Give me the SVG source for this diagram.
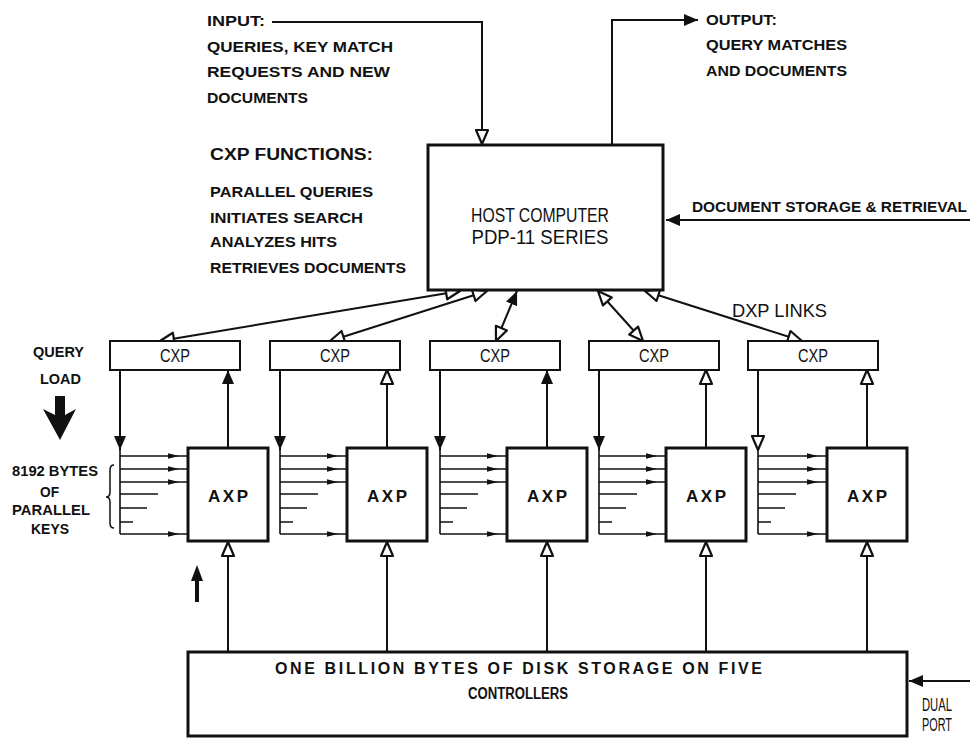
<svg xmlns="http://www.w3.org/2000/svg" width="970" height="738" viewBox="0 0 970 738">
<style>
text{font-family:"Liberation Sans",Arial,sans-serif;fill:#111}
.b{font-weight:bold;font-size:15px}
.r{font-size:18px}
.box{fill:#fff;stroke:#111;stroke-width:3}
.cxp{fill:#fff;stroke:#111;stroke-width:2}
.ln{fill:none;stroke:#111;stroke-width:2}
.kl{fill:none;stroke:#111;stroke-width:1.6}
.ka{fill:none;stroke:#111;stroke-width:1.6;marker-end:url(#sm)}
.ax{font-weight:bold;font-size:17px}
</style>
<defs>
<marker id="sol" viewBox="0 0 14 12" refX="14" refY="6" markerWidth="14" markerHeight="12" markerUnits="userSpaceOnUse" orient="auto-start-reverse"><path d="M0,0 L14,6 L0,12 z" fill="#111"/></marker>
<marker id="opn" viewBox="-2 -2 18 16" refX="14" refY="6" markerWidth="18" markerHeight="16" markerUnits="userSpaceOnUse" orient="auto-start-reverse"><path d="M0,0 L14,6 L0,12 z" fill="#fff" stroke="#111" stroke-width="2.2" stroke-linejoin="round"/></marker>
<marker id="sm" viewBox="0 0 20 6" refX="20" refY="3" markerWidth="20" markerHeight="6" markerUnits="userSpaceOnUse" orient="auto"><path d="M0,0.3 L11,3 L0,5.7 z" fill="#111"/></marker>
</defs>
<rect width="970" height="738" fill="#fff"/>

<g id="connectors">
<path class="ln" d="M272,22 H482 V144" marker-end="url(#opn)"/>
<path class="ln" d="M612,145 V20 H698" marker-end="url(#sol)"/>
<path class="ln" d="M970,220 H666" marker-end="url(#sol)"/>
<path class="ln" d="M970,681 H909" marker-end="url(#sol)"/>
<path class="ln" d="M460,291 L160,341" marker-start="url(#opn)" marker-end="url(#opn)"/>
<path class="ln" d="M487,291 L330,341" marker-start="url(#opn)" marker-end="url(#opn)"/>
<path class="ln" d="M517,291 L496,341" marker-start="url(#sol)" marker-end="url(#opn)"/>
<path class="ln" d="M598,291 L643,341" marker-start="url(#opn)" marker-end="url(#opn)"/>
<path class="ln" d="M645,291 L802,341" marker-start="url(#opn)" marker-end="url(#opn)"/>
<!-- unit 1 -->
<path class="ln" d="M120,370 V450" marker-end="url(#sol)"/>
<path class="ln" d="M228,448 V370" marker-end="url(#sol)"/>
<path class="ln" d="M228,652 V542" marker-end="url(#opn)"/>
<path class="kl" d="M120,450 V534 M120,494 H158 M120,508 H147 M120,522 H133"/>
<path class="ka" d="M120,456 H188"/><path class="ka" d="M120,469 H188"/><path class="ka" d="M120,482 H188"/><path class="ka" d="M120,534 H188"/>
<!-- unit 2 -->
<path class="ln" d="M280,370 V450" marker-end="url(#sol)"/>
<path class="ln" d="M387,448 V370" marker-end="url(#opn)"/>
<path class="ln" d="M387,652 V542" marker-end="url(#opn)"/>
<path class="kl" d="M280,450 V534 M280,494 H318 M280,508 H307 M280,522 H293"/>
<path class="ka" d="M280,456 H347"/><path class="ka" d="M280,469 H347"/><path class="ka" d="M280,482 H347"/><path class="ka" d="M280,534 H347"/>
<!-- unit 3 -->
<path class="ln" d="M440,370 V450" marker-end="url(#sol)"/>
<path class="ln" d="M547,448 V370" marker-end="url(#sol)"/>
<path class="ln" d="M547,652 V542" marker-end="url(#opn)"/>
<path class="kl" d="M440,450 V534 M440,494 H478 M440,508 H467 M440,522 H453"/>
<path class="ka" d="M440,456 H507"/><path class="ka" d="M440,469 H507"/><path class="ka" d="M440,482 H507"/><path class="ka" d="M440,534 H507"/>
<!-- unit 4 -->
<path class="ln" d="M599,370 V450" marker-end="url(#sol)"/>
<path class="ln" d="M706,448 V370" marker-end="url(#opn)"/>
<path class="ln" d="M706,652 V542" marker-end="url(#opn)"/>
<path class="kl" d="M599,450 V534 M599,494 H637 M599,508 H626 M599,522 H612"/>
<path class="ka" d="M599,456 H666"/><path class="ka" d="M599,469 H666"/><path class="ka" d="M599,482 H666"/><path class="ka" d="M599,534 H666"/>
<!-- unit 5 -->
<path class="ln" d="M758,370 V450" marker-end="url(#opn)"/>
<path class="ln" d="M867,448 V370" marker-end="url(#opn)"/>
<path class="ln" d="M867,652 V542" marker-end="url(#opn)"/>
<path class="kl" d="M758,450 V534 M758,494 H796 M758,508 H785 M758,522 H771"/>
<path class="ka" d="M758,456 H827"/><path class="ka" d="M758,469 H827"/><path class="ka" d="M758,482 H827"/><path class="ka" d="M758,534 H827"/>
</g>

<g id="annotations">
<text class="b" x="207" y="26" textLength="58" lengthAdjust="spacingAndGlyphs">INPUT:</text>
<text class="b" x="207" y="52" textLength="186" lengthAdjust="spacingAndGlyphs">QUERIES, KEY MATCH</text>
<text class="b" x="207" y="77" textLength="183" lengthAdjust="spacingAndGlyphs">REQUESTS AND NEW</text>
<text class="b" x="207" y="103" textLength="101" lengthAdjust="spacingAndGlyphs">DOCUMENTS</text>
<text class="b" x="706" y="25" textLength="71" lengthAdjust="spacingAndGlyphs">OUTPUT:</text>
<text class="b" x="706" y="50" textLength="141" lengthAdjust="spacingAndGlyphs">QUERY MATCHES</text>
<text class="b" x="706" y="76" textLength="141" lengthAdjust="spacingAndGlyphs">AND DOCUMENTS</text>
<text class="b" x="210" y="160" style="font-size:16px" textLength="163" lengthAdjust="spacingAndGlyphs">CXP FUNCTIONS:</text>
<text class="b" x="210" y="197" textLength="163" lengthAdjust="spacingAndGlyphs">PARALLEL QUERIES</text>
<text class="b" x="210" y="223" textLength="153" lengthAdjust="spacingAndGlyphs">INITIATES SEARCH</text>
<text class="b" x="210" y="247" textLength="127" lengthAdjust="spacingAndGlyphs">ANALYZES HITS</text>
<text class="b" x="210" y="273" textLength="196" lengthAdjust="spacingAndGlyphs">RETRIEVES DOCUMENTS</text>
<text class="b" x="692" y="212" textLength="275" lengthAdjust="spacingAndGlyphs">DOCUMENT STORAGE &amp; RETRIEVAL</text>
<text class="r" x="732" y="317" textLength="95" lengthAdjust="spacingAndGlyphs">DXP LINKS</text>
<text class="b" x="33" y="357" textLength="51" lengthAdjust="spacingAndGlyphs">QUERY</text>
<text class="b" x="40" y="384" textLength="41" lengthAdjust="spacingAndGlyphs">LOAD</text>
<path d="M55,396 H65 V415 L76,409 L60,440 L43,409 L55,415 Z" fill="#111"/>
<text class="b" x="12" y="476" textLength="86" lengthAdjust="spacingAndGlyphs">8192 BYTES</text>
<text class="b" x="40" y="497" textLength="19" lengthAdjust="spacingAndGlyphs">OF</text>
<text class="b" x="12" y="515" textLength="78" lengthAdjust="spacingAndGlyphs">PARALLEL</text>
<text class="b" x="31" y="534" textLength="38" lengthAdjust="spacingAndGlyphs">KEYS</text>
<path d="M114,465 Q110,465 110,470 L110,492 Q110,497 106,497 Q110,497 110,502 L110,523 Q110,528 114,528" fill="none" stroke="#111" stroke-width="1.5"/>
<path d="M197,602 V578" stroke="#111" stroke-width="4" fill="none"/>
<path d="M191,581 L197,565 L203,581 Z" fill="#111"/>
<text x="922" y="711" style="font-size:18px" textLength="30" lengthAdjust="spacingAndGlyphs">DUAL</text>
<text x="922" y="731" style="font-size:18px" textLength="30" lengthAdjust="spacingAndGlyphs">PORT</text>
</g>

<g id="host">
<rect class="box" x="428" y="145" width="235" height="145"/>
<text x="540" y="222" text-anchor="middle" style="font-size:20px" textLength="138" lengthAdjust="spacingAndGlyphs">HOST COMPUTER</text>
<text x="540" y="244" text-anchor="middle" style="font-size:20px" textLength="137" lengthAdjust="spacingAndGlyphs">PDP-11 SERIES</text>
</g>

<g id="cxp1"><rect class="cxp" x="110" y="341" width="130" height="29"/><text x="175" y="362" text-anchor="middle" style="font-size:18px" textLength="30" lengthAdjust="spacingAndGlyphs">CXP</text></g>
<g id="cxp2"><rect class="cxp" x="270" y="341" width="130" height="29"/><text x="335" y="362" text-anchor="middle" style="font-size:18px" textLength="30" lengthAdjust="spacingAndGlyphs">CXP</text></g>
<g id="cxp3"><rect class="cxp" x="430" y="341" width="130" height="29"/><text x="495" y="362" text-anchor="middle" style="font-size:18px" textLength="30" lengthAdjust="spacingAndGlyphs">CXP</text></g>
<g id="cxp4"><rect class="cxp" x="589" y="341" width="130" height="29"/><text x="654" y="362" text-anchor="middle" style="font-size:18px" textLength="30" lengthAdjust="spacingAndGlyphs">CXP</text></g>
<g id="cxp5"><rect class="cxp" x="748" y="341" width="130" height="29"/><text x="813" y="362" text-anchor="middle" style="font-size:18px" textLength="30" lengthAdjust="spacingAndGlyphs">CXP</text></g>

<g id="axp1"><rect class="box" x="188" y="448" width="80" height="93"/><text class="ax" x="228" y="502" text-anchor="middle" textLength="40" lengthAdjust="spacing">AXP</text></g>
<g id="axp2"><rect class="box" x="347" y="448" width="80" height="93"/><text class="ax" x="387" y="502" text-anchor="middle" textLength="40" lengthAdjust="spacing">AXP</text></g>
<g id="axp3"><rect class="box" x="507" y="448" width="80" height="93"/><text class="ax" x="547" y="502" text-anchor="middle" textLength="40" lengthAdjust="spacing">AXP</text></g>
<g id="axp4"><rect class="box" x="666" y="448" width="80" height="93"/><text class="ax" x="706" y="502" text-anchor="middle" textLength="40" lengthAdjust="spacing">AXP</text></g>
<g id="axp5"><rect class="box" x="827" y="448" width="80" height="93"/><text class="ax" x="867" y="502" text-anchor="middle" textLength="40" lengthAdjust="spacing">AXP</text></g>

<g id="disk">
<rect class="box" x="188" y="652" width="719" height="84"/>
<text class="b" x="275" y="674" style="font-size:16px" textLength="487" lengthAdjust="spacing">ONE BILLION BYTES OF DISK STORAGE ON FIVE</text>
<text class="b" x="468" y="699" style="font-size:16px" textLength="100" lengthAdjust="spacingAndGlyphs">CONTROLLERS</text>
</g>
</svg>
